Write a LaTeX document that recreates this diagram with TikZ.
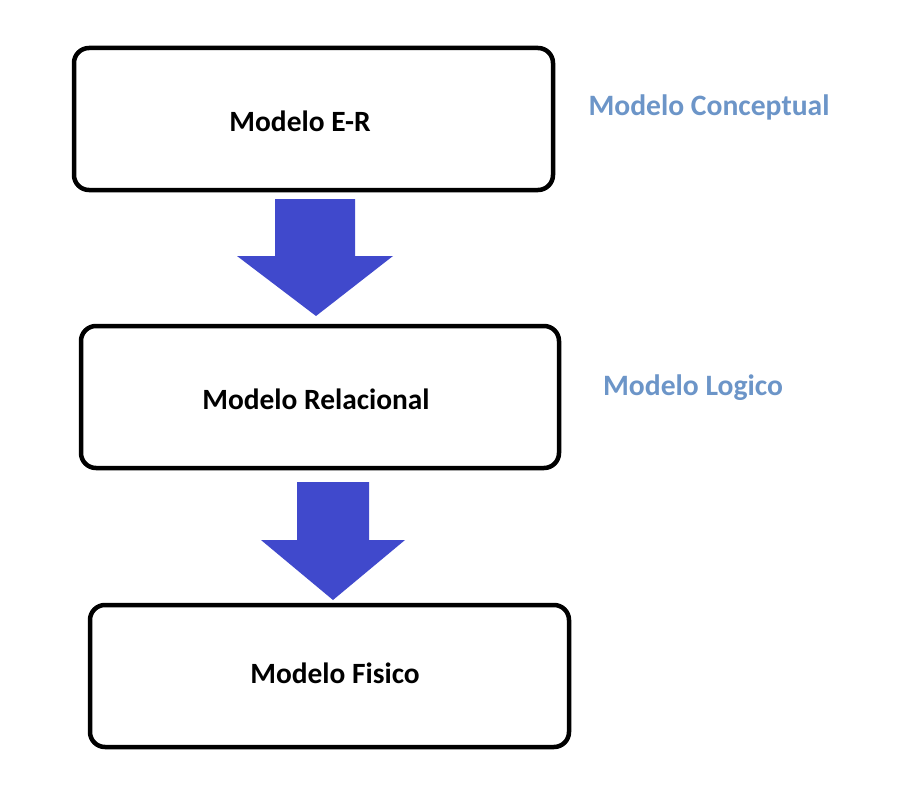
\documentclass[tikz,border=0pt]{standalone}
\usepackage{fontspec}
\setmainfont{Carlito}
\definecolor{arrowblue}{HTML}{4049CC}
\definecolor{labelblue}{HTML}{6C95C8}
\tikzset{
  modelbox/.style={draw=black, line width=4.5pt, rounded corners=15pt, fill=white},
  boxtext/.style={font=\fontsize{29.4}{33}\selectfont\bfseries, text=black},
  sidelabel/.style={font=\fontsize{29.6}{33}\selectfont\bfseries, text=labelblue},
  blockarrow/.style={fill=arrowblue, draw=none}
}
\begin{document}
\begin{tikzpicture}[x=1pt,y=-1pt]
\useasboundingbox (0,0) rectangle (902,797);
% boxes
\draw[modelbox] (74,48) rectangle (553,190);
\draw[modelbox] (81,326) rectangle (559,468);
\draw[modelbox] (90,605) rectangle (569,747);
\node[boxtext] (er) at (300,121) {Modelo E-R};
\node[boxtext] (rel) at (316,399) {Modelo Relacional};
\node[boxtext] (fis) at (335,673) {Modelo Fisico};
% side labels
\node[sidelabel] (conc) at (709,107) {Modelo Conceptual};
\node[sidelabel] (log) at (693,388) {Modelo Logico};
% block arrows
\fill[blockarrow] (275,199) -- (355,199) -- (355,256) -- (393,256) -- (316,316) -- (237,256) -- (275,256) -- cycle;
\fill[blockarrow] (297,482) -- (369,482) -- (369,540) -- (405,540) -- (333,600) -- (261,540) -- (297,540) -- cycle;
\end{tikzpicture}
\end{document}
